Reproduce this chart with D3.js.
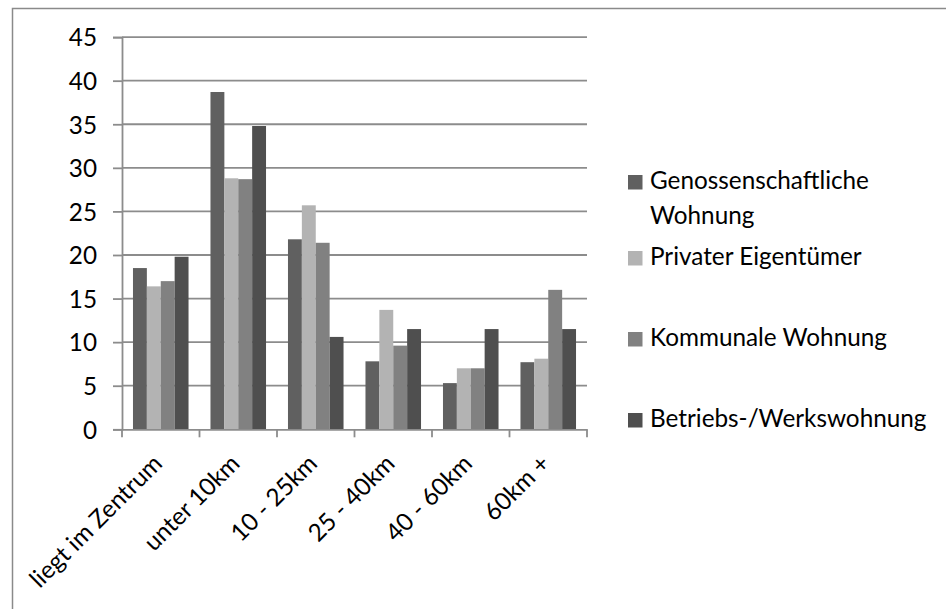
<!DOCTYPE html>
<html>
<head>
<meta charset="utf-8">
<script src="https://cdn.jsdelivr.net/npm/d3@7"></script>
<style>
  html, body { margin: 0; padding: 0; background: #fff; }
  svg { display: block; }
  text { font-family: Lato, "Open Sans", sans-serif; fill: #000; }
</style>
</head>
<body>
<svg id="chart" width="946" height="609"></svg>
<script>
const categories = ["liegt im Zentrum", "unter 10km", "10 - 25km", "25 - 40km", "40 - 60km", "60km +"];
const seriesNames = ["Genossenschaftliche Wohnung", "Privater Eigentümer", "Kommunale Wohnung", "Betriebs-/Werkswohnung"];
const genossenschaftlich = [18.5, 38.7, 21.8, 7.8, 5.3, 7.7];
const privat = [16.4, 28.8, 25.7, 13.7, 7.0, 8.1];
const kommunal = [17.0, 28.7, 21.4, 9.6, 7.0, 16.0];
const betrieb = [19.8, 34.8, 10.6, 11.5, 11.5, 11.5];
const yTicks = [0, 5, 10, 15, 20, 25, 30, 35, 40, 45];
const legendLines = [["Genossenschaftliche", "Wohnung"], ["Privater Eigentümer"], ["Kommunale Wohnung"], ["Betriebs-/Werkswohnung"]];

const seriesValues = [genossenschaftlich, privat, kommunal, betrieb];
const colors = ["#606060", "#b3b3b3", "#818181", "#4f4f4f"];

const svg = d3.select("#chart");
const fontSize = 24.3;

// outer frame (cropped at right and bottom)
svg.append("rect")
  .attr("x", 12.5).attr("y", 8.5).attr("width", 1000).attr("height", 1000)
  .attr("fill", "none").attr("stroke", "#8a8a8a").attr("stroke-width", 1.5);

const pLeft = 122, pRight = 587, pTop = 37.1, pBottom = 429.3;

const x = d3.scaleBand().domain(categories).range([pLeft, pRight]).paddingInner(0).paddingOuter(0);
const x1 = d3.scaleBand().domain(d3.range(seriesNames.length)).range([0, x.bandwidth()]).paddingOuter(0.79).paddingInner(0);
const y = d3.scaleLinear().domain([0, 45]).range([pBottom, pTop]);

// gridlines
svg.append("g")
  .selectAll("line").data(yTicks.filter(d => d > 0)).join("line")
  .attr("x1", pLeft).attr("x2", pRight)
  .attr("y1", d => y(d)).attr("y2", d => y(d))
  .attr("stroke", "#8c8c8c").attr("stroke-width", 1.8);

// bars
const groups = svg.append("g").selectAll("g").data(categories).join("g")
  .attr("transform", c => `translate(${x(c)},0)`);
groups.selectAll("rect")
  .data((c, i) => seriesValues.map((vals, s) => ({ s, v: vals[i] })))
  .join("rect")
  .attr("x", d => x1(d.s))
  .attr("width", x1.bandwidth())
  .attr("y", d => y(d.v))
  .attr("height", d => pBottom - y(d.v))
  .attr("fill", d => colors[d.s]);

// y axis
const yAxis = d3.axisLeft(y).tickValues(yTicks).tickSize(9).tickPadding(16);
const gy = svg.append("g").attr("transform", `translate(${pLeft},0)`).call(yAxis);
gy.select(".domain").attr("stroke", "#8c8c8c").attr("stroke-width", 1.8);
gy.selectAll(".tick line").attr("stroke", "#8c8c8c").attr("stroke-width", 1.8);
gy.selectAll(".tick text")
  .attr("font-family", "Lato, 'Open Sans', sans-serif")
  .attr("font-size", fontSize).attr("fill", "#000").attr("dy", "0.36em");

// x axis
const xAxis = d3.axisBottom(x).tickSize(0).tickFormat("");
const gx = svg.append("g").attr("transform", `translate(0,${pBottom})`).call(xAxis);
gx.select(".domain").attr("stroke", "#8c8c8c").attr("stroke-width", 1.8);
gx.selectAll(".tick").remove();
gx.selectAll("line.sep").data(categories.concat(["end"])).join("line")
  .attr("class", "sep")
  .attr("x1", (c, i) => pLeft + i * x.step()).attr("x2", (c, i) => pLeft + i * x.step())
  .attr("y1", 0).attr("y2", 8)
  .attr("stroke", "#8c8c8c").attr("stroke-width", 1.8);

// x labels rotated
svg.append("g").selectAll("text").data(categories).join("text")
  .attr("text-anchor", "end")
  .attr("font-size", fontSize)
  .attr("transform", c => `translate(${x(c) + x.bandwidth() / 2 + 3},${465}) rotate(-45)`)
  .text(c => c);

// legend
const legendY = [189, 265, 346, 427];
const lg = svg.append("g");
legendLines.forEach((lines, i) => {
  lg.append("rect").attr("x", 628).attr("y", legendY[i] - 14).attr("width", 14.5).attr("height", 14.5)
    .attr("fill", colors[i]);
  lines.forEach((t, j) => {
    lg.append("text").attr("x", 650).attr("y", legendY[i] + j * 35)
      .attr("font-size", fontSize).text(t);
  });
});
</script>
</body>
</html>
